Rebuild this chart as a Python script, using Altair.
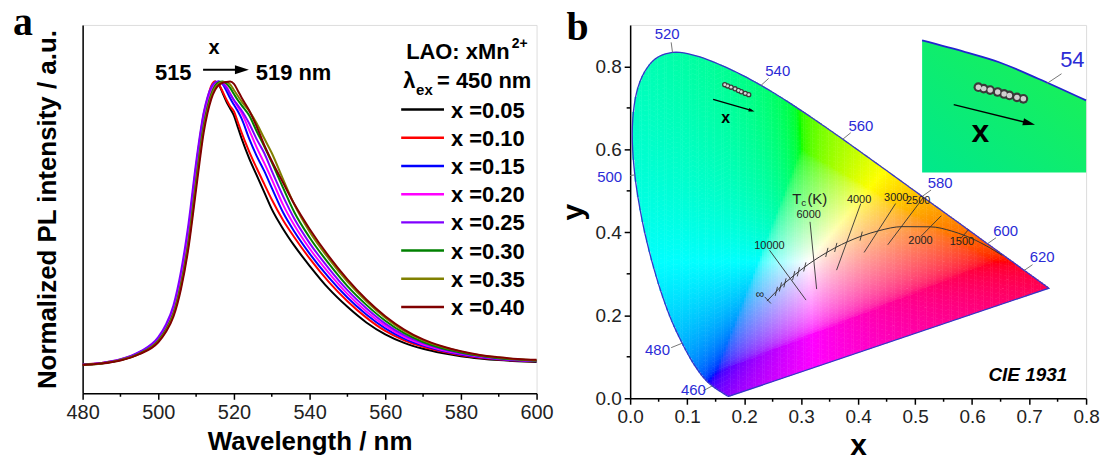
import altair as alt
import pandas as pd
import numpy as np

alt.data_transformers.disable_max_rows()

# ---------------- Panel a data ----------------
wavelength = [480, 485, 490, 495, 500, 502, 504, 506, 508, 510, 511, 512, 513, 514, 515, 516, 517, 518,
              519, 520, 521, 522, 524, 526, 528, 530, 533, 536, 540, 545, 550, 555, 560, 565, 570, 575,
              580, 585, 590, 595, 600]

series_labels = ["x =0.05", "x =0.10", "x =0.15", "x =0.20", "x =0.25", "x =0.30", "x =0.35", "x =0.40"]
series_colors = ["#000000", "#FF0000", "#0000FF", "#FF00FF", "#8000FF", "#008000", "#808000", "#800000"]

pl_005 = [.000, .006, .018, .042, .090, .130, .190, .300, .460, .680, .780, .870, .930, .975, 1.000, .990,
          .960, .930, .905, .880, .840, .800, .730, .670, .610, .550, .480, .420, .350, .270, .205, .150,
          .108, .078, .057, .042, .031, .023, .017, .013, .010]
pl_010 = [.002, .007, .019, .044, .094, .136, .200, .315, .480, .700, .800, .885, .940, .985, 1.000, .991,
          .965, .937, .913, .895, .858, .821, .754, .695, .639, .584, .511, .450, .376, .294, .225, .167,
          .120, .087, .064, .047, .034, .025, .019, .015, .013]
pl_015 = [.001, .006, .018, .043, .092, .133, .196, .310, .475, .690, .790, .875, .935, .975, .995, 1.000,
          .991, .968, .941, .918, .896, .870, .800, .738, .685, .625, .538, .470, .393, .310, .238, .178,
          .129, .093, .068, .050, .037, .027, .020, .016, .013]
pl_020 = [.000, .006, .018, .042, .090, .130, .192, .305, .468, .685, .785, .870, .930, .970, .990, .998,
          .996, .983, .958, .933, .911, .890, .830, .768, .713, .655, .565, .492, .411, .326, .251, .189,
          .138, .099, .072, .053, .039, .029, .022, .017, .014]
pl_025 = [.001, .007, .020, .046, .098, .142, .210, .330, .500, .715, .810, .890, .945, .980, .997, 1.000,
          .993, .978, .956, .935, .917, .899, .853, .797, .748, .685, .595, .515, .430, .342, .264, .200,
          .146, .105, .077, .056, .041, .031, .023, .018, .014]
pl_030 = [.000, .005, .017, .040, .086, .124, .182, .285, .438, .650, .755, .845, .910, .955, .985, .997,
          1.000, .993, .978, .956, .935, .917, .881, .825, .772, .715, .625, .538, .450, .359, .278, .212,
          .156, .112, .081, .059, .044, .032, .024, .019, .015]
pl_035 = [.000, .005, .017, .039, .084, .121, .178, .278, .428, .638, .742, .835, .900, .948, .978, .993,
          .999, .999, .990, .970, .950, .930, .897, .853, .800, .748, .655, .565, .470, .376, .294, .225,
          .167, .120, .087, .064, .047, .034, .026, .020, .016]
pl_040 = [.000, .005, .016, .038, .080, .116, .170, .268, .415, .620, .725, .820, .888, .938, .970, .988,
          .996, .999, 1.000, .992, .969, .944, .899, .842, .777, .720, .643, .567, .480, .385, .302, .231,
          .172, .125, .090, .066, .048, .035, .027, .021, .018]
pl_series = [pl_005, pl_010, pl_015, pl_020, pl_025, pl_030, pl_035, pl_040]

# ---------------- Panel b data ----------------
locus_nm = [380, 385, 390, 395, 400, 405, 410, 415, 420, 425, 430, 435, 440, 445, 450, 455, 460, 465, 470,
            475, 480, 485, 490, 495, 500, 505, 510, 515, 520, 525, 530, 535, 540, 545, 550, 555, 560, 565,
            570, 575, 580, 585, 590, 595, 600, 605, 610, 615, 620, 625, 630, 635, 640, 645, 650, 655, 660,
            665, 670, 680, 690, 700]
locus_x = [0.1741, 0.1740, 0.1738, 0.1736, 0.1733, 0.1730, 0.1726, 0.1721, 0.1714, 0.1703, 0.1689, 0.1669,
           0.1644, 0.1611, 0.1566, 0.1510, 0.1440, 0.1355, 0.1241, 0.1096, 0.0913, 0.0687, 0.0454, 0.0235,
           0.0082, 0.0039, 0.0139, 0.0389, 0.0743, 0.1142, 0.1547, 0.1929, 0.2296, 0.2658, 0.3016, 0.3373,
           0.3731, 0.4087, 0.4441, 0.4788, 0.5125, 0.5448, 0.5752, 0.6029, 0.6270, 0.6482, 0.6658, 0.6801,
           0.6915, 0.7006, 0.7079, 0.7140, 0.7190, 0.7230, 0.7260, 0.7283, 0.7300, 0.7311, 0.7320, 0.7334,
           0.7344, 0.7347]
locus_y = [0.0050, 0.0050, 0.0049, 0.0049, 0.0048, 0.0048, 0.0048, 0.0048, 0.0051, 0.0058, 0.0069, 0.0086,
           0.0109, 0.0138, 0.0177, 0.0227, 0.0297, 0.0399, 0.0578, 0.0868, 0.1327, 0.2007, 0.2950, 0.4127,
           0.5384, 0.6548, 0.7502, 0.8120, 0.8338, 0.8262, 0.8059, 0.7816, 0.7543, 0.7243, 0.6923, 0.6589,
           0.6245, 0.5896, 0.5547, 0.5202, 0.4866, 0.4544, 0.4242, 0.3965, 0.3725, 0.3514, 0.3340, 0.3197,
           0.3083, 0.2993, 0.2920, 0.2859, 0.2809, 0.2770, 0.2740, 0.2717, 0.2700, 0.2689, 0.2680, 0.2666,
           0.2656, 0.2653]

wl_labels = ["520", "540", "560", "580", "600", "620", "500", "480", "460"]
wl_label_x = [0.065, 0.259, 0.405, 0.544, 0.659, 0.723, -0.036, 0.048, 0.111]
wl_label_y = [0.878, 0.790, 0.657, 0.518, 0.404, 0.340, 0.533, 0.116, 0.020]
lead_x1 = [0.0743, 0.2296, 0.3731, 0.5125, 0.6270, 0.6915, 0.0082, 0.0913, 0.1440]
lead_y1 = [0.8338, 0.7543, 0.6245, 0.4866, 0.3725, 0.3083, 0.5384, 0.1327, 0.0297]
lead_x2 = [0.0720, 0.2430, 0.3870, 0.5280, 0.6420, 0.7060, 0.0000, 0.0720, 0.1280]
lead_y2 = [0.8580, 0.7710, 0.6400, 0.5020, 0.3870, 0.3220, 0.5370, 0.1220, 0.0180]

planck_T = [1000, 1200, 1500, 1667, 2000, 2500, 3000, 3500, 4000, 4500, 5000, 5500, 6000, 6500, 7000, 8000,
            9000, 10000, 12000, 15000, 20000, "inf"]
planck_x = [0.6528, 0.6251, 0.5857, 0.5646, 0.5267, 0.4770, 0.4369, 0.4053, 0.3805, 0.3608, 0.3451, 0.3325,
            0.3221, 0.3135, 0.3064, 0.2952, 0.2869, 0.2807, 0.2716, 0.2637, 0.2565, 0.2399]
planck_y = [0.3444, 0.3674, 0.3931, 0.4029, 0.4133, 0.4137, 0.4041, 0.3907, 0.3768, 0.3636, 0.3516, 0.3411,
            0.3318, 0.3237, 0.3166, 0.3048, 0.2956, 0.2884, 0.2782, 0.2683, 0.2577, 0.2342]

iso_labels = ["10000", "6000", "4000", "3000", "2500", "2000", "1500"]
iso_x1 = [0.2445, 0.3156, 0.4047, 0.4658, 0.5150, 0.5460, 0.5940]
iso_y1 = [0.3570, 0.4253, 0.4694, 0.4694, 0.4850, 0.4400, 0.4070]
iso_x2 = [0.3086, 0.3272, 0.3622, 0.4105, 0.4520, 0.5100, 0.5800]
iso_y2 = [0.2367, 0.2632, 0.3089, 0.3515, 0.3700, 0.3900, 0.3850]
iso_text_x = [0.2445, 0.3132, 0.4017, 0.4669, 0.5054, 0.5095, 0.5822]
iso_text_y = [0.3675, 0.4413, 0.4774, 0.4830, 0.4750, 0.3796, 0.3755]

tick_T_x = [0.2565, 0.2637, 0.2716, 0.2869, 0.2952, 0.3064, 0.3451, 0.3608, 0.4053]
tick_T_y = [0.2577, 0.2683, 0.2782, 0.2956, 0.3048, 0.3166, 0.3516, 0.3636, 0.3907]

cie_x = [0.166, 0.171, 0.177, 0.184, 0.190, 0.195, 0.202, 0.208]
cie_y = [0.756, 0.753, 0.750, 0.746, 0.742, 0.739, 0.735, 0.732]

inset_edge_x = [0.5123, 0.5881, 0.6463, 0.7162, 0.8000]
inset_edge_y = [0.8626, 0.8346, 0.8106, 0.7704, 0.7181]
inset_bottom = 0.544

# ---------------- helpers ----------------
FONT = "Liberation Sans"


def txt(s, x, y, size=16, weight="normal", color="black", align="center", baseline="middle",
        font=FONT, style="normal"):
    return alt.Chart(alt.Data(values=[{"t": s}])).mark_text(
        fontSize=size, fontWeight=weight, color=color, align=align, baseline=baseline,
        font=font, fontStyle=style).encode(text="t:N", x=alt.value(x), y=alt.value(y))


def one():
    return alt.Chart(alt.Data(values=[{"a": 1}]))


# ================= Panel a =================
WA, HA = 456, 370
rows = []
for lab, col, vals in zip(series_labels, series_colors, pl_series):
    for w, v in zip(wavelength, vals):
        rows.append({"wl": w, "v": v, "s": lab, "c": col})
df_a = pd.DataFrame(rows)

xa = alt.Scale(domain=[480, 600], nice=False)
ya = alt.Scale(domain=[-0.1, 1.2], nice=False)

lines_a = alt.Chart(df_a).mark_line(strokeWidth=2, interpolate="monotone").encode(
    x=alt.X("wl:Q", scale=xa, axis=alt.Axis(
        values=[480, 500, 520, 540, 560, 580, 600], format="d", labelFontSize=20, labelColor="#222",
        labelFont=FONT, labelFlush=False, tickSize=6, tickWidth=1.5, tickColor="black",
        domainColor="black", domainWidth=1.5, labelPadding=3, title="Wavelength / nm", titleFontSize=26,
        titleFont=FONT, titleFontWeight="bold", titlePadding=6, grid=False, titleColor="black")),
    y=alt.Y("v:Q", scale=ya, axis=alt.Axis(
        labels=False, ticks=False, domainColor="black", domainWidth=1.5,
        title="Normalized PL intensity / a.u.", titleFontSize=26, titleFont=FONT,
        titleFontWeight="bold", titlePadding=22, grid=False, titleColor="black")),
    color=alt.Color("c:N", scale=None),
    detail="s:N",
)

minor_a = alt.Chart(pd.DataFrame({"wl": [490, 510, 530, 550, 570, 590]})).mark_rule(
    color="black", strokeWidth=1.5).encode(x=alt.X("wl:Q", scale=xa), y=alt.value(HA), y2=alt.value(HA + 3.5))

layers_a = [lines_a, minor_a]
for i, (lab, col) in enumerate(zip(series_labels, series_colors)):
    yy = 85 + 28.33 * i
    layers_a.append(one().mark_rule(color=col, strokeWidth=2.5).encode(
        x=alt.value(320), x2=alt.value(363), y=alt.value(yy)))
    layers_a.append(txt(lab, 370, yy + 1, size=22, weight="bold", align="left"))

layers_a += [
    txt("LAO: xMn", 325, 27.5, size=22, weight="bold", align="left"),
    txt("2+", 431, 19, size=14, weight="bold", align="left"),
    txt("λ", 322, 56, size=22, weight="bold", align="left"),
    txt("ex", 335, 65, size=15, weight="bold", align="left"),
    txt("= 450 nm", 356, 56, size=22, weight="bold", align="left"),
    txt("x", 132, 23, size=20, weight="bold"),
    txt("515", 91, 48, size=22, weight="bold"),
    txt("519 nm", 174, 48, size=22, weight="bold", align="left"),
    one().mark_rule(color="black", strokeWidth=2).encode(x=alt.value(121), x2=alt.value(155), y=alt.value(45)),
    one().mark_point(shape="M0,0L-2,-0.65L-2,0.65Z", filled=True, color="black", opacity=1, size=196).encode(
        x=alt.value(167), y=alt.value(45)),
    txt("a", -70, 10, size=40, weight="bold", font="Liberation Serif", align="left", baseline="alphabetic"),
]

panel_a = alt.layer(*layers_a).properties(width=WA, height=HA)

# ================= Panel b =================
WB, HB = 458, 375
xb = alt.Scale(domain=[0, 0.8], nice=False)
yb = alt.Scale(domain=[0, 0.9], nice=False)


def srgb(c):
    return 12.92 * c if c <= 0.0031308 else 1.055 * c ** (1 / 2.4) - 0.055


def xy_hex(x, y):
    X = x / y
    Z = (1 - x - y) / y
    r = 3.2406 * X - 1.5372 - 0.4986 * Z
    g = -0.9689 * X + 1.8758 + 0.0415 * Z
    b = 0.0557 * X - 0.2040 + 1.0570 * Z
    m = min(r, g, b)
    if m < 0:
        r, g, b = r - m, g - m, b - m
    mx = max(r, g, b)
    r, g, b = (srgb(max(0.0, c / mx)) for c in (r, g, b))
    return "#%02x%02x%02x" % tuple(int(round(255 * min(1, c))) for c in (r, g, b))


def smooth(xs, ys, n=6):
    """Catmull-Rom resampling of the tabulated locus so the outline is drawn smoothly."""
    ox, oy = [], []
    N = len(xs)
    for i in range(N - 1):
        i0, i3 = max(i - 1, 0), min(i + 2, N - 1)
        for k in range(n):
            t = k / n
            pts = []
            for P in (xs, ys):
                p0, p1, p2, p3 = P[i0], P[i], P[i + 1], P[i3]
                pts.append(0.5 * (2 * p1 + (-p0 + p2) * t + (2 * p0 - 5 * p1 + 4 * p2 - p3) * t * t
                                  + (-p0 + 3 * p1 - 3 * p2 + p3) * t ** 3))
            ox.append(pts[0])
            oy.append(pts[1])
    ox.append(xs[-1])
    oy.append(ys[-1])
    return ox, oy


sx, sy = smooth(locus_x, locus_y)
px = sx + [sx[0]]
py = sy + [sy[0]]
step_x, step_y = 0.004, 0.006
cells = []
x0 = min(sx)
while x0 < max(sx):
    xc = x0 + step_x / 2
    ys = []
    for i in range(len(px) - 1):
        x1, y1, x2, y2 = px[i], py[i], px[i + 1], py[i + 1]
        if x1 != x2 and (x1 - xc) * (x2 - xc) <= 0:
            t = (xc - x1) / (x2 - x1)
            ys.append(y1 + t * (y2 - y1))
    if len(ys) >= 2:
        ylo, yhi = min(ys), max(ys)
        yy = ylo
        while yy < yhi - 1e-6:
            ytop = min(yy + step_y, yhi)
            cells.append({"x": round(x0, 4), "x2": round(min(x0 + step_x + 0.0007, 0.7347), 4),
                          "y": round(yy, 4), "y2": round(min(ytop + 0.0012, yhi), 4),
                          "c": xy_hex(xc, (yy + ytop) / 2)})
            yy = ytop
    x0 += step_x
df_cells = pd.DataFrame(cells)

gamut = alt.Chart(df_cells).mark_rect(strokeWidth=0).encode(
    x=alt.X("x:Q", scale=xb, axis=alt.Axis(
        values=[0, 0.1, 0.2, 0.3, 0.4, 0.5, 0.6, 0.7, 0.8], format=".1f", labelFontSize=19,
        labelColor="#222", labelFont=FONT, labelFlush=False, tickSize=6, tickWidth=1.5, tickColor="black",
        domainColor="black", domainWidth=1.5, labelPadding=3, title="x", titleFontSize=30,
        titleFont=FONT, titleFontWeight="bold", titlePadding=4, grid=False, titleColor="black")),
    x2="x2:Q",
    y=alt.Y("y:Q", scale=yb, axis=alt.Axis(
        values=[0, 0.2, 0.4, 0.6, 0.8], format=".1f", labelFontSize=19, labelColor="#222",
        labelFont=FONT, labelFlush=False, tickSize=6, tickWidth=1.5, tickColor="black", domainColor="black",
        domainWidth=1.5, labelPadding=3, title="y", titleFontSize=30, titleFont=FONT,
        titleFontWeight="bold", titlePadding=6, grid=False, titleColor="black")),
    y2="y2:Q",
    color=alt.Color("c:N", scale=None),
)


def seg(df, color, width):
    return alt.Chart(df).mark_rule(color=color, strokeWidth=width).encode(
        x=alt.X("x:Q", scale=xb), y=alt.Y("y:Q", scale=yb), x2="x2:Q", y2="y2:Q")


df_locus = pd.DataFrame({"x": px, "y": py, "o": list(range(len(px)))})
locus_line = alt.Chart(df_locus).mark_line(color="#3535C8", strokeWidth=1.3).encode(
    x=alt.X("x:Q", scale=xb), y=alt.Y("y:Q", scale=yb), order="o:Q")

leaders = seg(pd.DataFrame({"x": lead_x1, "y": lead_y1, "x2": lead_x2, "y2": lead_y2}), "#777", 1)

wl_text = alt.Chart(pd.DataFrame({"x": wl_label_x, "y": wl_label_y, "t": wl_labels})).mark_text(
    fontSize=15, color="#2B2BD6", font=FONT).encode(
    x=alt.X("x:Q", scale=xb), y=alt.Y("y:Q", scale=yb), text="t:N")

planck = alt.Chart(pd.DataFrame({"x": planck_x, "y": planck_y})).mark_line(
    color="#333", strokeWidth=1, interpolate="monotone").encode(
    x=alt.X("x:Q", scale=xb), y=alt.Y("y:Q", scale=yb))

isos = seg(pd.DataFrame({"x": iso_x1, "y": iso_y1, "x2": iso_x2, "y2": iso_y2}), "#333", 0.9)
tks = seg(pd.DataFrame({"x": [v - 0.002 for v in tick_T_x], "y": [v - 0.011 for v in tick_T_y],
                        "x2": [v + 0.002 for v in tick_T_x], "y2": [v + 0.011 for v in tick_T_y]}), "#333", 0.9)
inf_tick = seg(pd.DataFrame({"x": [0.236], "y": [0.2445], "x2": [0.247], "y2": [0.2285]}), "#333", 0.9)

iso_text = alt.Chart(pd.DataFrame({"x": iso_text_x, "y": iso_text_y, "t": iso_labels})).mark_text(
    fontSize=11, color="#222", font=FONT).encode(
    x=alt.X("x:Q", scale=xb), y=alt.Y("y:Q", scale=yb), text="t:N")

tc_T = alt.Chart(pd.DataFrame({"x": [0.2925], "y": [0.4798], "t": ["T"]})).mark_text(
    color="#222", font=FONT, fontSize=15).encode(
    x=alt.X("x:Q", scale=xb), y=alt.Y("y:Q", scale=yb), text="t:N")
tc_c = alt.Chart(pd.DataFrame({"x": [0.3045], "y": [0.4700], "t": ["c"]})).mark_text(
    color="#222", font=FONT, fontSize=10).encode(
    x=alt.X("x:Q", scale=xb), y=alt.Y("y:Q", scale=yb), text="t:N")
tc_K = alt.Chart(pd.DataFrame({"x": [0.3110], "y": [0.4798], "t": ["(K)"]})).mark_text(
    color="#222", font=FONT, fontSize=15, align="left").encode(
    x=alt.X("x:Q", scale=xb), y=alt.Y("y:Q", scale=yb), text="t:N")
inf_txt = alt.Chart(pd.DataFrame({"x": [0.228], "y": [0.251], "t": ["∞"]})).mark_text(
    color="#222", font=FONT, fontSize=12).encode(
    x=alt.X("x:Q", scale=xb), y=alt.Y("y:Q", scale=yb), text="t:N")

# inset
df_inset = pd.DataFrame({"x": inset_edge_x, "y": inset_edge_y, "y0": [inset_bottom] * len(inset_edge_x)})
inset_fill = alt.Chart(df_inset).mark_area(
    interpolate="monotone",
    color=alt.Gradient(gradient="linear", x1=0, x2=1, y1=1, y2=0,
                       stops=[alt.GradientStop(color="#00E88C", offset=0),
                              alt.GradientStop(color="#1EF24E", offset=1)])).encode(
    x=alt.X("x:Q", scale=xb), y=alt.Y("y:Q", scale=yb), y2="y0:Q")
inset_line = alt.Chart(df_inset).mark_line(interpolate="monotone", color="#2323D0", strokeWidth=1.8).encode(
    x=alt.X("x:Q", scale=xb), y=alt.Y("y:Q", scale=yb))
inset_lead = seg(pd.DataFrame({"x": [0.7307], "y": [0.7583], "x2": [0.7569], "y2": [0.7823]}), "#777", 1)
inset_54 = alt.Chart(pd.DataFrame({"x": [0.7545], "y": [0.8146], "t": ["54"]})).mark_text(
    fontSize=22, color="#2B2BD6", font=FONT, align="left").encode(
    x=alt.X("x:Q", scale=xb), y=alt.Y("y:Q", scale=yb), text="t:N")

df_pts = pd.DataFrame({"x": cie_x, "y": cie_y})
pts_dark = alt.Chart(df_pts).mark_circle(color="#3a3a3a", opacity=1, size=30).encode(
    x=alt.X("x:Q", scale=xb), y=alt.Y("y:Q", scale=yb))
pts_light = alt.Chart(df_pts).mark_circle(color="#d8d8d8", opacity=1, size=8).encode(
    x=alt.X("x:Q", scale=xb), y=alt.Y("y:Q", scale=yb))

df_pts_in = pd.DataFrame({"x": [0.611 + (v - cie_x[0]) * 1.88 for v in cie_x],
                          "y": [0.750 + (v - cie_y[0]) * 1.17 for v in cie_y]})
pin_dark = alt.Chart(df_pts_in).mark_circle(color="#3a3a3a", opacity=1, size=95).encode(
    x=alt.X("x:Q", scale=xb), y=alt.Y("y:Q", scale=yb))
pin_light = alt.Chart(df_pts_in).mark_circle(color="#d0d0d0", opacity=1, size=30).encode(
    x=alt.X("x:Q", scale=xb), y=alt.Y("y:Q", scale=yb))

arrows = seg(pd.DataFrame({"x": [0.1456, 0.5677], "y": [0.7205, 0.7077], "x2": [0.2140, 0.7000],
                           "y2": [0.6932, 0.6630]}), "black", 1.3)
head_main = alt.Chart(pd.DataFrame({"x": [0.2183], "y": [0.6916]})).mark_point(
    shape="M0,0L-2,-0.6L-2,0.6Z", filled=True, color="black", opacity=1, size=36, angle=16).encode(
    x=alt.X("x:Q", scale=xb), y=alt.Y("y:Q", scale=yb))
head_in = alt.Chart(pd.DataFrame({"x": [0.7104], "y": [0.6596]})).mark_point(
    shape="M0,0L-2,-0.6L-2,0.6Z", filled=True, color="black", opacity=1, size=150, angle=14).encode(
    x=alt.X("x:Q", scale=xb), y=alt.Y("y:Q", scale=yb))
x_small = alt.Chart(pd.DataFrame({"x": [0.1677], "y": [0.6757], "t": ["x"]})).mark_text(
    fontWeight="bold", font=FONT, color="black", fontSize=16).encode(
    x=alt.X("x:Q", scale=xb), y=alt.Y("y:Q", scale=yb), text="t:N")
x_big = alt.Chart(pd.DataFrame({"x": [0.6143], "y": [0.642], "t": ["x"]})).mark_text(
    fontWeight="bold", font=FONT, color="black", fontSize=32).encode(
    x=alt.X("x:Q", scale=xb), y=alt.Y("y:Q", scale=yb), text="t:N")

cie_txt = alt.Chart(pd.DataFrame({"x": [0.767], "y": [0.056], "t": ["CIE 1931"]})).mark_text(
    fontSize=19, fontWeight="bold", fontStyle="italic", font=FONT, align="right", color="black").encode(
    x=alt.X("x:Q", scale=xb), y=alt.Y("y:Q", scale=yb), text="t:N")

minor_bx = alt.Chart(pd.DataFrame({"x": [0.05, 0.15, 0.25, 0.35, 0.45, 0.55, 0.65, 0.75]})).mark_rule(
    color="black", strokeWidth=1.5).encode(x=alt.X("x:Q", scale=xb), y=alt.value(HB), y2=alt.value(HB + 3.5))
minor_by = alt.Chart(pd.DataFrame({"y": [0.1, 0.3, 0.5, 0.7]})).mark_rule(
    color="black", strokeWidth=1.5).encode(y=alt.Y("y:Q", scale=yb), x=alt.value(0), x2=alt.value(-3.5))

b_lbl = txt("b", -64, 15, size=40, weight="bold", font="Liberation Serif", align="left", baseline="alphabetic")

panel_b = alt.layer(
    gamut, locus_line, leaders, wl_text, planck, isos, tks, inf_tick, iso_text, tc_T, tc_c, tc_K, inf_txt,
    inset_fill, inset_line, inset_lead, inset_54, pts_dark, pts_light, pin_dark, pin_light,
    arrows, head_main, head_in, x_small, x_big, cie_txt, minor_bx, minor_by, b_lbl
).properties(width=WB, height=HB)

chart = alt.hconcat(panel_a, panel_b, spacing=4).properties(
    padding={"left": 12, "top": 1, "right": 5, "bottom": 5}, background="white"
).configure_view(stroke="black", strokeWidth=2).configure(font=FONT)

chart.save("out.html", embed_options={"renderer": "svg", "actions": False})
